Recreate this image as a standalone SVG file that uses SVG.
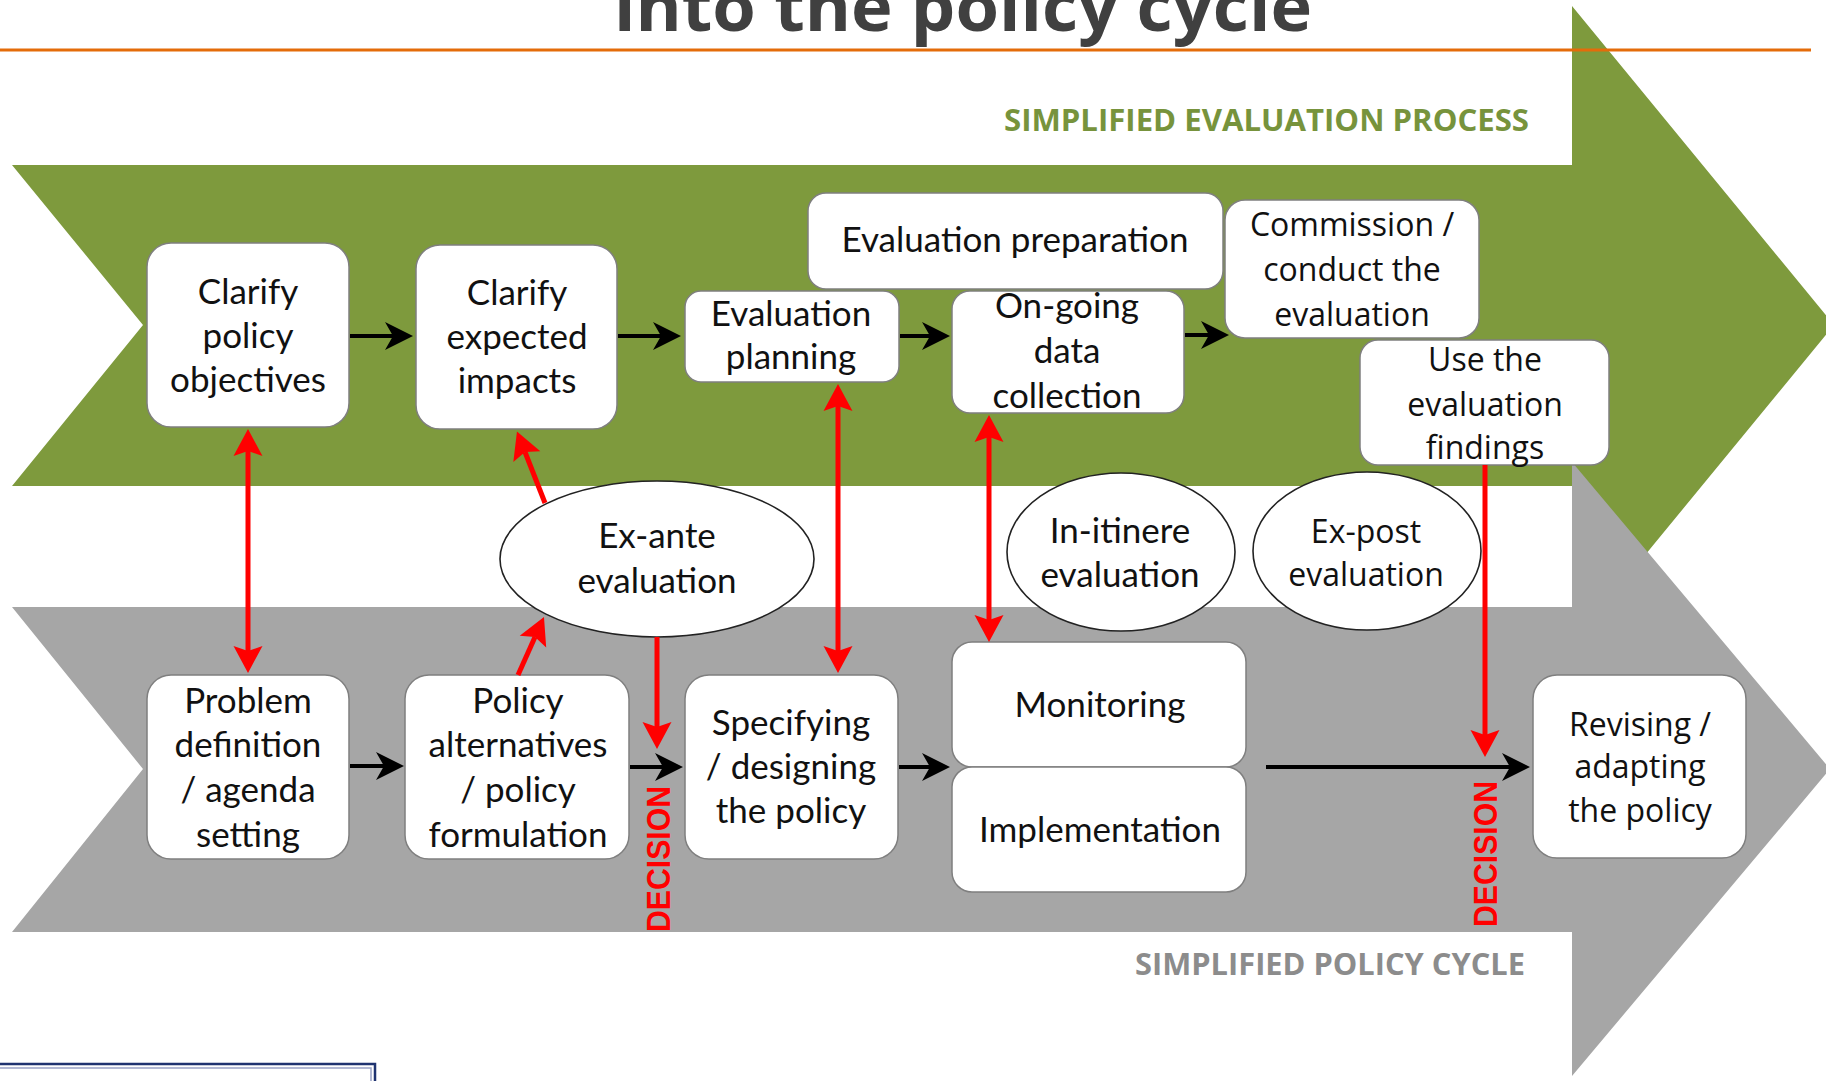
<svg xmlns="http://www.w3.org/2000/svg" width="1826" height="1081" viewBox="0 0 1826 1081">
<defs>
<style>
.box{fill:#fff;stroke:#7f7f7f;stroke-width:1.5}
.ell{fill:#fff;stroke:#222;stroke-width:1.6}
.t{font-family:Lato,"Open Sans",sans-serif;font-size:35px;fill:#111;text-anchor:middle}
.s{font-family:"Open Sans","Noto Sans",sans-serif;font-size:32px;fill:#111;text-anchor:middle}
.blk{stroke:#000;stroke-width:4;fill:none;marker-end:url(#ah)}
.red{stroke:#ff0000;stroke-width:5;fill:none;marker-end:url(#rh)}
.red2{stroke:#ff0000;stroke-width:5;fill:none;marker-start:url(#rh);marker-end:url(#rh)}
.dec{font-family:"Liberation Sans",Arial,sans-serif;font-weight:bold;font-size:34px;fill:#ff0000}
</style>
<marker id="ah" viewBox="-3 -4 9 8" refX="0" refY="0" markerWidth="9" markerHeight="8" orient="auto" markerUnits="strokeWidth">
<path d="M5,0 L-2,-3.5 L0,0 L-2,3.5 Z" fill="#000"/>
</marker>
<marker id="rh" viewBox="-2 -3.5 7 7" refX="0" refY="0" markerWidth="7" markerHeight="7" orient="auto-start-reverse" markerUnits="strokeWidth">
<path d="M4.4,0 L-1,-2.9 L0,0 L-1,2.9 Z" fill="#ff0000"/>
</marker>
</defs>
<rect x="0" y="0" width="1826" height="1081" fill="#fff"/>
<g id="background">
<polygon points="12,165 1572,165 1572,6 1834,325 1572,644 1572,486 12,486 143,325" fill="#7e9a3d"/>
<polygon points="12,607 1572,607 1572,462 1830,769 1572,1076 1572,932 12,932 143,769" fill="#a6a6a6"/>
<text x="963" y="31" font-family="'Open Sans',sans-serif" font-weight="bold" font-size="68" fill="#404040" text-anchor="middle" textLength="698" lengthAdjust="spacingAndGlyphs">into the policy cycle</text>
<line x1="0" y1="50" x2="1811" y2="50" stroke="#e46c0a" stroke-width="3"/>
<text x="1004" y="131" font-family="'Open Sans',sans-serif" font-weight="bold" font-size="30" fill="#77933c" textLength="525" lengthAdjust="spacingAndGlyphs">SIMPLIFIED EVALUATION PROCESS</text>
<text x="1135" y="975" font-family="'Open Sans',sans-serif" font-weight="bold" font-size="30" fill="#8c8c8c" textLength="390" lengthAdjust="spacingAndGlyphs">SIMPLIFIED POLICY CYCLE</text>
<rect x="-2" y="1064" width="377" height="40" fill="none" stroke="#1f3370" stroke-width="2.5"/>
<rect x="-2" y="1068" width="373" height="40" fill="none" stroke="#9aa3c6" stroke-width="1.5"/>
</g>
<g id="node-clarify-objectives">
<rect class="box" x="147" y="243" width="202" height="184" rx="24"/>
<text class="t" x="248" y="304">Clarify</text>
<text class="t" x="248" y="348">policy</text>
<text class="t" x="248" y="392">objectives</text>
</g>
<g id="node-clarify-impacts">
<rect class="box" x="416" y="245" width="201" height="184" rx="24"/>
<text class="t" x="517" y="305">Clarify</text>
<text class="t" x="517" y="349">expected</text>
<text class="t" x="517" y="393">impacts</text>
</g>
<g id="node-evaluation-planning">
<rect class="box" x="685" y="291" width="214" height="91" rx="16"/>
<text class="t" x="791" y="326">Evaluation</text>
<text class="t" x="791" y="369">planning</text>
</g>
<g id="node-evaluation-preparation">
<rect class="box" x="808" y="193" width="415" height="96" rx="18"/>
<text class="t" x="1015" y="252">Evaluation preparation</text>
</g>
<g id="node-ongoing-data">
<rect class="box" x="952" y="291" width="232" height="122" rx="18"/>
<text class="t" x="1067" y="318">On-going</text>
<text class="t" x="1067" y="363">data</text>
<text class="t" x="1067" y="408">collection</text>
</g>
<g id="node-commission">
<rect class="box" x="1225" y="200" width="254" height="138" rx="20"/>
<text class="s" x="1352" y="236">Commission /</text>
<text class="s" x="1352" y="281">conduct the</text>
<text class="s" x="1352" y="326">evaluation</text>
</g>
<g id="node-use-findings">
<rect class="box" x="1360" y="340" width="249" height="125" rx="18"/>
<text class="s" x="1485" y="371">Use the</text>
<text class="s" x="1485" y="416">evaluation</text>
<text class="s" x="1485" y="459">findings</text>
</g>
<g id="node-ex-ante">
<ellipse class="ell" cx="657" cy="559" rx="157" ry="78"/>
<text class="t" x="657" y="548">Ex-ante</text>
<text class="t" x="657" y="593">evaluation</text>
</g>
<g id="node-in-itinere">
<ellipse class="ell" cx="1121" cy="552" rx="114" ry="79"/>
<text class="t" x="1120" y="543">In-itinere</text>
<text class="t" x="1120" y="587">evaluation</text>
</g>
<g id="node-ex-post">
<ellipse class="ell" cx="1367" cy="551" rx="114" ry="79"/>
<text class="s" x="1366" y="543">Ex-post</text>
<text class="s" x="1366" y="586">evaluation</text>
</g>
<g id="node-problem-definition">
<rect class="box" x="147" y="675" width="202" height="184" rx="24"/>
<text class="t" x="248" y="713">Problem</text>
<text class="t" x="248" y="757">definition</text>
<text class="t" x="248" y="802">/ agenda</text>
<text class="t" x="248" y="847">setting</text>
</g>
<g id="node-policy-alternatives">
<rect class="box" x="405" y="675" width="224" height="184" rx="24"/>
<text class="t" x="518" y="713">Policy</text>
<text class="t" x="518" y="757">alternatives</text>
<text class="t" x="518" y="802">/ policy</text>
<text class="t" x="518" y="847">formulation</text>
</g>
<g id="node-specifying">
<rect class="box" x="685" y="675" width="213" height="184" rx="24"/>
<text class="t" x="791" y="735">Specifying</text>
<text class="t" x="791" y="779">/ designing</text>
<text class="t" x="791" y="823">the policy</text>
</g>
<g id="node-monitoring">
<rect class="box" x="952" y="642" width="294" height="125" rx="20"/>
<text class="t" x="1100" y="717">Monitoring</text>
</g>
<g id="node-implementation">
<rect class="box" x="952" y="767" width="294" height="125" rx="20"/>
<text class="t" x="1100" y="842">Implementation</text>
</g>
<g id="node-revising">
<rect class="box" x="1533" y="675" width="213" height="183" rx="24"/>
<text class="s" x="1640" y="736">Revising /</text>
<text class="s" x="1640" y="778">adapting</text>
<text class="s" x="1640" y="822">the policy</text>
</g>
<g id="connectors">
<line class="blk" x1="350" y1="336" x2="393" y2="336"/>
<line class="blk" x1="618" y1="336" x2="661" y2="336"/>
<line class="blk" x1="900" y1="336" x2="930" y2="336"/>
<line class="blk" x1="1185" y1="335" x2="1209" y2="335"/>
<line class="blk" x1="350" y1="766" x2="384" y2="766"/>
<line class="blk" x1="630" y1="767" x2="663" y2="767"/>
<line class="blk" x1="899" y1="767" x2="930" y2="767"/>
<line class="blk" x1="1266" y1="767" x2="1510" y2="767"/>
<line class="red2" x1="248" y1="451" x2="248" y2="651"/>
<line class="red" x1="518" y1="675" x2="535" y2="637"/>
<line class="red" x1="545" y1="503" x2="525" y2="452"/>
<line class="red" x1="657" y1="637" x2="657" y2="727"/>
<line class="red2" x1="838" y1="406" x2="838" y2="651"/>
<line class="red2" x1="989" y1="437" x2="989" y2="620"/>
<line class="red" x1="1485" y1="465" x2="1485" y2="735"/>
<text class="dec" transform="translate(670,932) rotate(-90)" textLength="146" lengthAdjust="spacingAndGlyphs">DECISION</text>
<text class="dec" transform="translate(1497,927) rotate(-90)" textLength="146" lengthAdjust="spacingAndGlyphs">DECISION</text>
</g>
</svg>
